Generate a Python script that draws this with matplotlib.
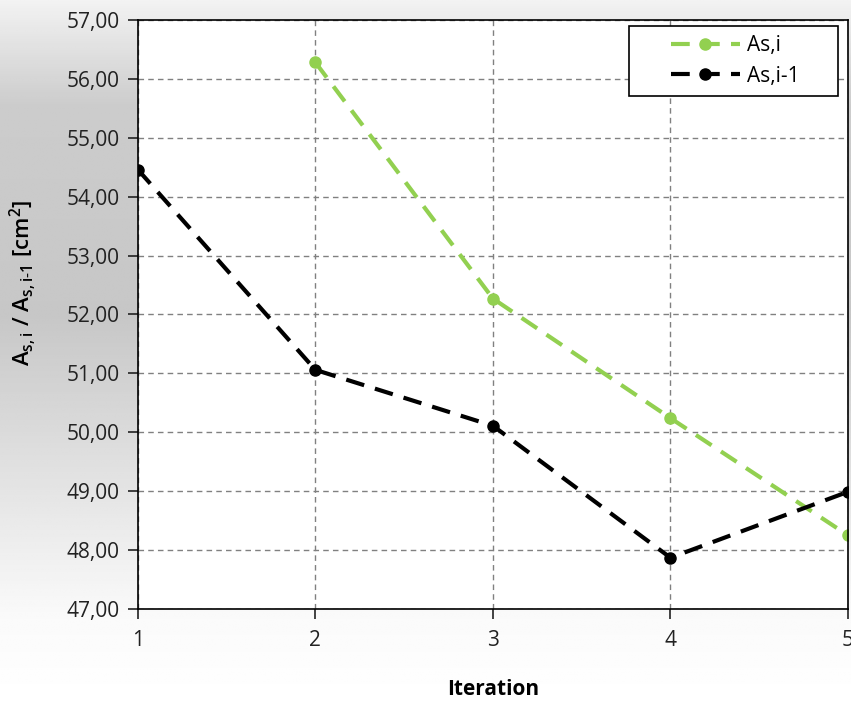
import numpy as np
import matplotlib
matplotlib.use("Agg")
import matplotlib.pyplot as plt
from matplotlib.ticker import FuncFormatter
from matplotlib.legend_handler import HandlerLine2D

plt.rcParams['font.family'] = ['Open Sans', 'DejaVu Sans']
plt.rcParams['mathtext.fontset'] = 'custom'
plt.rcParams['mathtext.rm'] = 'Open Sans'
plt.rcParams['mathtext.bf'] = 'Open Sans:semibold'

iterations = [1, 2, 3, 4, 5]
as_i_x = [2, 3, 4, 5]
as_i = [56.28, 52.27, 50.24, 48.25]
as_i1_x = [1, 2, 3, 4, 5]
as_i1 = [54.46, 51.06, 50.11, 47.87, 48.99]

green = '#92d050'

fig = plt.figure(figsize=(8.51, 7.02), dpi=100)

# background gradient: gray in the middle, lighter at top, white at bottom
bg = fig.add_axes([0, 0, 1, 1], zorder=-10)
yy = np.linspace(0, 1, 300)[:, None]
shade = np.interp(yy, [0.0, 0.12, 0.55, 0.85, 1.0], [1.0, 0.98, 0.78, 0.80, 0.95])
bg.imshow(np.repeat(shade, 300, axis=1), cmap='gray', vmin=0, vmax=1,
          extent=[0, 1, 0, 1], aspect='auto', origin='lower')
bg.axis('off')

ax = fig.add_axes([0.162, 0.1325, 0.8345, 0.839])
ax.set_facecolor('white')

l1, = ax.plot(as_i_x, as_i, '--o', color=green, lw=3, ms=8, dashes=(4.5, 2.7), label='As,i')
l2, = ax.plot(as_i1_x, as_i1, '--o', color='black', lw=3, ms=8, dashes=(4.5, 2.7), label='As,i-1')

ax.set_xlim(1, 5)
ax.set_ylim(47, 57)
ax.set_xticks(iterations)
ax.set_yticks(np.arange(47, 58, 1))
ax.yaxis.set_major_formatter(FuncFormatter(lambda v, p: f'{v:.2f}'.replace('.', ',')))
ax.grid(True, linestyle=(0, (4, 3)), color='#808080', lw=1)
for s in ax.spines.values():
    s.set_color('black')
    s.set_linewidth(1.2)
ax.tick_params(axis='both', direction='out', length=7, width=1.2, labelsize=15, colors='#222222')
ax.tick_params(axis='x', pad=8)
ax.tick_params(axis='y', pad=6)

ax.set_xlabel('Iteration', fontsize=15, fontweight='bold', labelpad=20)
ax.set_ylabel(r'$\mathbf{A_{s,i}}$ / $\mathbf{A_{s,i\text{-}1}}$ [cm$\mathbf{^2}$]',
              fontsize=16, fontweight='semibold')
ax.yaxis.set_label_coords(-0.141, 0.553)

hm = {l1: HandlerLine2D(xpad=1.55), l2: HandlerLine2D(xpad=1.55)}
leg = ax.legend(loc='upper left', bbox_to_anchor=(0.6915, 0.5, 0.2944, 0.4898),
                mode='expand', fontsize=15, fancybox=False, framealpha=1,
                edgecolor='black', borderaxespad=0, handlelength=4.9,
                borderpad=0.45, labelspacing=0.45, handletextpad=0.3,
                handler_map=hm)
leg.get_frame().set_linewidth(1.2)

fig.savefig('out.png', dpi=100)
